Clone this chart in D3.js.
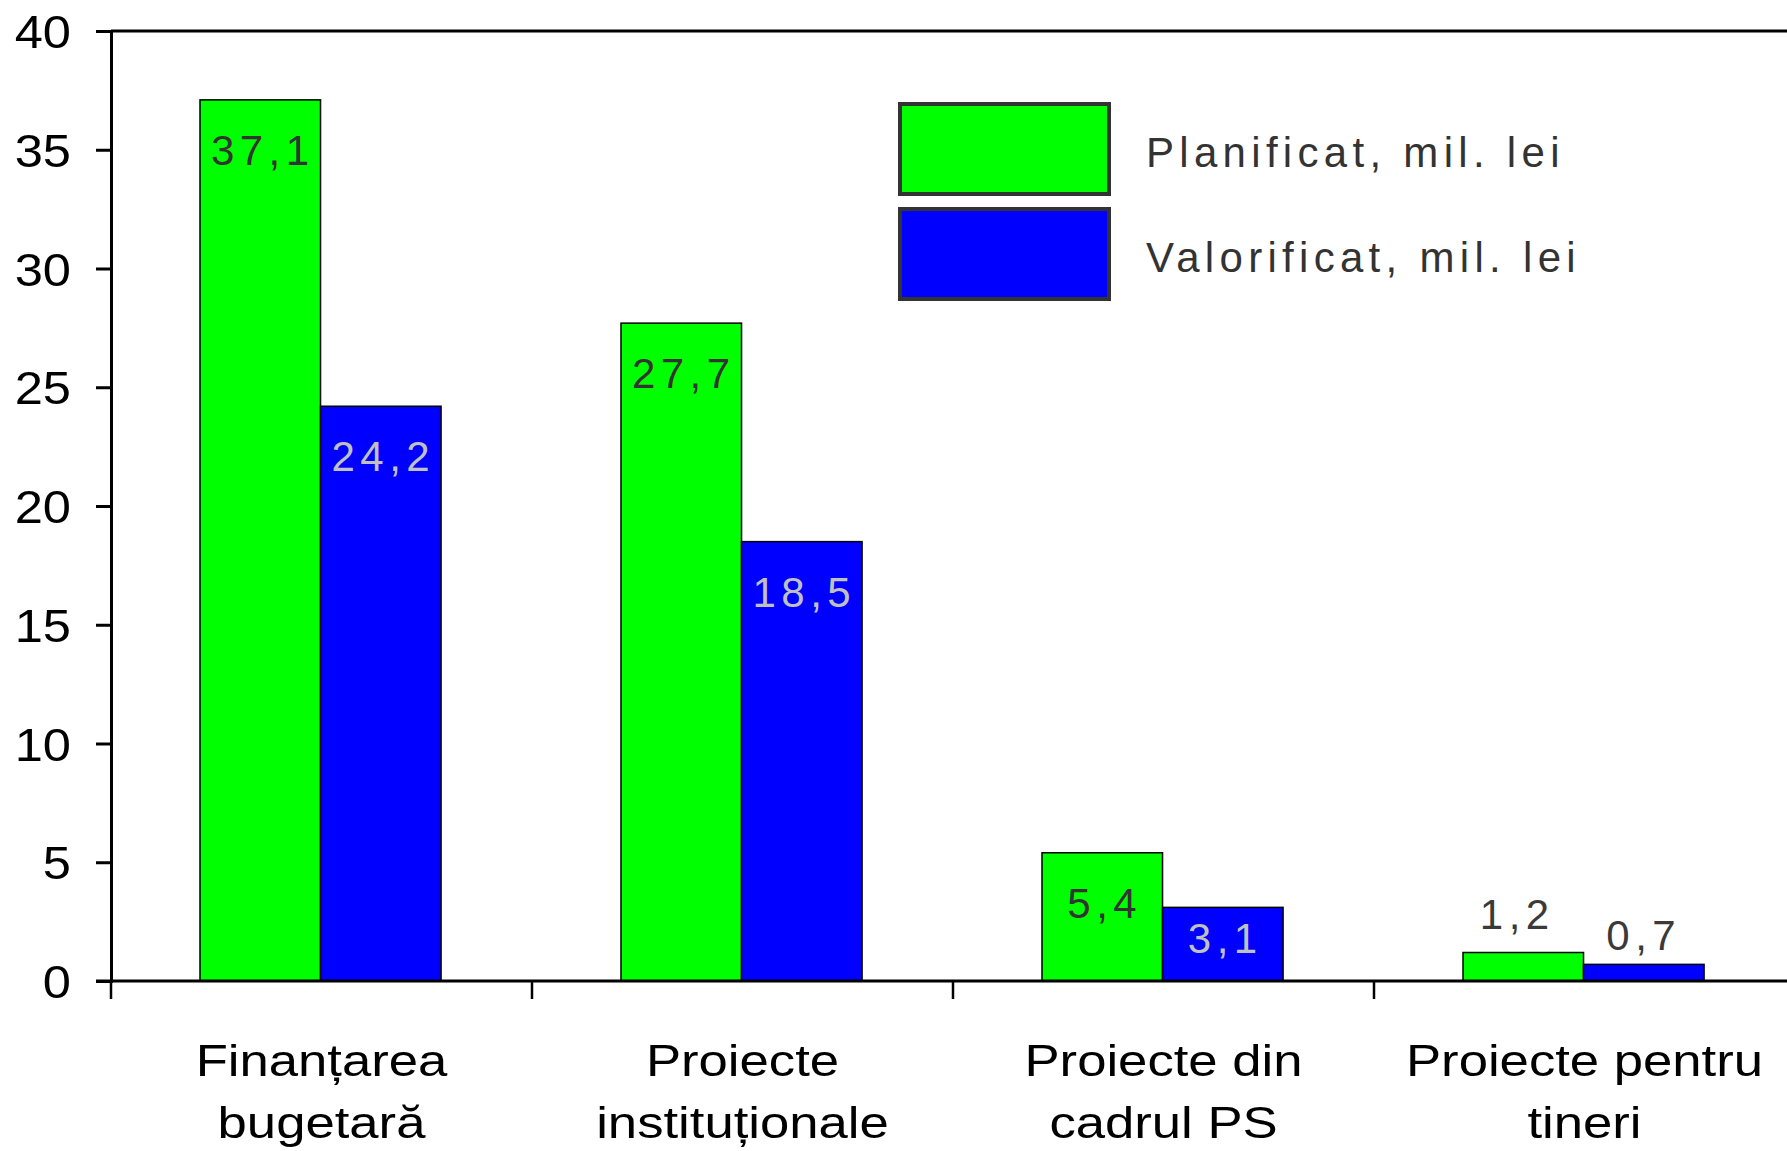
<!DOCTYPE html>
<html><head><meta charset="utf-8">
<script src="https://cdn.jsdelivr.net/npm/d3@7"></script>
<style>
html,body{margin:0;padding:0;background:#fff;}
svg{display:block;}
</style></head>
<body>
<svg id="chart" width="1787" height="1151"></svg>
<script>
const categories = [["Finanțarea","bugetară"],["Proiecte","instituționale"],["Proiecte din","cadrul PS"],["Proiecte pentru","tineri"]];
const seriesNames = ["Planificat, mil. lei","Valorificat, mil. lei"];
const planificat = [37.1, 27.7, 5.4, 1.2];
const valorificat = [24.2, 18.5, 3.1, 0.7];
const valueLabels = [["37,1","27,7","5,4","1,2"],["24,2","18,5","3,1","0,7"]];
const yTicks = [0,5,10,15,20,25,30,35,40];
const colors = ["#00FF00","#0000FF"];
const labelColors = ["#333333","#C0C0C0"];

(function(){
const svg = d3.select("#chart");
const mLeft = 111, mTop = 31, mBottom = 981, mRight = 1795;
const font = "'Liberation Sans', Arial, sans-serif";

const y = d3.scaleLinear().domain([0,40]).range([mBottom, mTop]);
const catIdx = categories.map((c,i)=>i);
const x0 = d3.scaleBand().domain(catIdx).range([mLeft, mRight]).padding(0);
const bw = x0.bandwidth();
const x1 = d3.scaleBand().domain([0,1]).range([bw*0.2114, bw*0.784]).padding(0);

// top frame line
svg.append("line").attr("x1", mLeft).attr("x2", mRight).attr("y1", y(40)).attr("y2", y(40))
  .attr("stroke","#000").attr("stroke-width",3);

// bars
const data = [planificat, valorificat];
const g = svg.append("g");
catIdx.forEach(ci=>{
  [0,1].forEach(si=>{
    const v = data[si][ci];
    g.append("rect")
      .attr("x", x0(ci)+x1(si))
      .attr("y", y(v))
      .attr("width", x1.bandwidth())
      .attr("height", y(0)-y(v))
      .attr("fill", colors[si])
      .attr("stroke","#000").attr("stroke-width",1.5);
  });
});

// value labels
catIdx.forEach(ci=>{
  [0,1].forEach(si=>{
    const v = data[si][ci];
    const h = y(0)-y(v);
    let cy, col, dx = 2.5;
    if (h < 50) { cy = y(v) - (h*0.75 + 17); col = "#3a3a3a"; dx = si===0 ? -6 : 0; }
    else { cy = y(v) + Math.min(50, h*0.42); col = labelColors[si]; }
    svg.append("text")
      .attr("x", x0(ci)+x1(si)+x1.bandwidth()/2 + dx)
      .attr("y", cy)
      .attr("dy","0.36em")
      .attr("text-anchor","middle")
      .attr("font-family", font)
      .attr("font-size", 42)
      .attr("letter-spacing", 5.5)
      .attr("fill", col)
      .text(valueLabels[si][ci]);
  });
});

// y axis
const yAxis = d3.axisLeft(y).tickValues(yTicks).tickSize(15).tickPadding(25).tickFormat(d3.format("d"));
const ya = svg.append("g").attr("transform",`translate(${mLeft},0)`).call(yAxis);
ya.select(".domain").attr("stroke","#000").attr("stroke-width",3);
ya.selectAll(".tick line").attr("stroke","#000").attr("stroke-width",3);
ya.selectAll(".tick text").attr("font-family",font).attr("font-size",46)
  .attr("fill","#000").attr("dy","0.36em")
  .attr("x", 0).attr("transform","translate(-40,0) scale(1.1,1)");

// x axis
const xa = svg.append("g").attr("transform",`translate(0,${mBottom})`);
xa.append("line").attr("x1", mLeft-15).attr("x2", mRight).attr("y1",0).attr("y2",0)
  .attr("stroke","#000").attr("stroke-width",3);
catIdx.forEach(ci=>{
  xa.append("line").attr("x1", x0(ci)).attr("x2", x0(ci)).attr("y1",0).attr("y2",18)
    .attr("stroke","#000").attr("stroke-width",2.5);
  const t = xa.append("text")
    .attr("transform", `translate(${x0(ci)+bw/2},0) scale(1.17,1)`)
    .attr("text-anchor","middle")
    .attr("font-family",font).attr("font-size",45)
    .attr("fill","#000");
  categories[ci].forEach((line,li)=>{
    t.append("tspan").attr("x", 0).attr("y", 95 + li*62).text(line);
  });
});

// legend
const legend = svg.append("g");
seriesNames.forEach((name,i)=>{
  const ly = 104 + i*105;
  legend.append("rect").attr("x",900).attr("y",ly).attr("width",209).attr("height",90)
    .attr("fill",colors[i]).attr("stroke","#333").attr("stroke-width",4);
  legend.append("text").attr("x",1146).attr("y",ly+63)
    .attr("font-family",font).attr("font-size",42).attr("letter-spacing",5.3)
    .attr("fill","#333").text(name);
});
})();
</script>
</body></html>
